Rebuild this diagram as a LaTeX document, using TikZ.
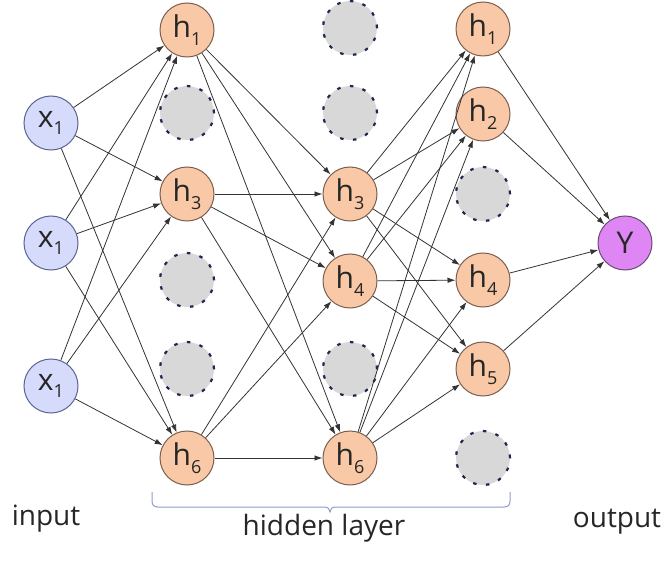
\documentclass[tikz,border=0pt]{standalone}
\usepackage{fontspec}
\setmainfont{Open Sans}
\usetikzlibrary{arrows.meta}
\definecolor{inFill}{HTML}{D6DAFB}
\definecolor{inDraw}{HTML}{5A6490}
\definecolor{hFill}{HTML}{F9C8A6}
\definecolor{hDraw}{HTML}{7A5E50}
\definecolor{yFill}{HTML}{DE86F4}
\definecolor{yDraw}{HTML}{6A4A78}
\definecolor{gFill}{HTML}{D8D8D8}
\definecolor{gDraw}{HTML}{1E2850}
\definecolor{braceCol}{HTML}{8C9CCB}
\newcommand{\nlab}[2]{#1\raisebox{-0.25em}{\fontsize{18}{18}\selectfont #2}}
\begin{document}
\begin{tikzpicture}[x=1pt,y=-1pt,
 neuron/.style={circle, minimum size=54pt, inner sep=0pt, line width=1pt, font=\fontsize{30}{32}\selectfont, text=black!85},
 innode/.style={neuron, fill=inFill, draw=inDraw},
 hnode/.style={neuron, fill=hFill, draw=hDraw},
 ynode/.style={neuron, fill=yFill, draw=yDraw},
 gnode/.style={neuron, fill=gFill, draw=gDraw, line width=2.2pt, dash pattern=on 3.5pt off 9.5pt},
 conn/.style={-{Latex[length=8pt,width=5.5pt]}, line width=0.8pt, draw=black!80},
 lbl/.style={font=\fontsize{28}{30}\selectfont, text=black!85, anchor=base}
]
\useasboundingbox (0,0) rectangle (669,561);
% input layer
\node[innode] (i1) at (51,123) {\nlab{x}{1}};
\node[innode] (i2) at (51,243) {\nlab{x}{1}};
\node[innode] (i3) at (51,386) {\nlab{x}{1}};
% hidden layer 1
\node[hnode] (a1) at (187,30) {\nlab{h}{1}};
\node[gnode] (a2) at (187,113) {};
\node[hnode] (a3) at (187,194) {\nlab{h}{3}};
\node[gnode] (a4) at (187,280) {};
\node[gnode] (a5) at (187,369) {};
\node[hnode] (a6) at (187,458) {\nlab{h}{6}};
% hidden layer 2
\node[gnode] (b1) at (350,28) {};
\node[gnode] (b2) at (350,113) {};
\node[hnode] (b3) at (350,194) {\nlab{h}{3}};
\node[hnode] (b4) at (350,281) {\nlab{h}{4}};
\node[gnode] (b5) at (350,369) {};
\node[hnode] (b6) at (350,458) {\nlab{h}{6}};
% hidden layer 3
\node[hnode] (c1) at (483,29) {\nlab{h}{1}};
\node[hnode] (c2) at (483,114) {\nlab{h}{2}};
\node[gnode] (c3) at (483,194) {};
\node[hnode] (c4) at (483,280) {\nlab{h}{4}};
\node[hnode] (c5) at (483,369) {\nlab{h}{5}};
\node[gnode] (c6) at (483,458) {};
% output
\node[ynode] (y) at (625,243) {Y};
% connectors
\foreach \s in {i1,i2,i3} \foreach \t in {a1,a3,a6} \draw[conn] (\s) -- (\t);
\foreach \s in {a1,a3,a6} \foreach \t in {b3,b4,b6} \draw[conn] (\s) -- (\t);
\foreach \s in {b3,b4,b6} \foreach \t in {c1,c2,c4,c5} \draw[conn] (\s) -- (\t);
\foreach \s in {c1,c2,c4,c5} \draw[conn] (\s) -- (y);
% brace
\draw[braceCol, line width=1pt] (152,492) -- (152,501) .. controls (152,505) and (154,507) .. (158,507) -- (324,507) .. controls (328,507) and (330,509) .. (330,512) .. controls (330,509) and (332,507) .. (336,507) -- (504,507) .. controls (508,507) and (510,505) .. (510,501) -- (510,492);
% labels
\node[lbl] (tin) at (46,525) {input};
\node[lbl] (thid) at (324,535) {hidden layer};
\node[lbl] (tout) at (617,527) {output};
\end{tikzpicture}
\end{document}
